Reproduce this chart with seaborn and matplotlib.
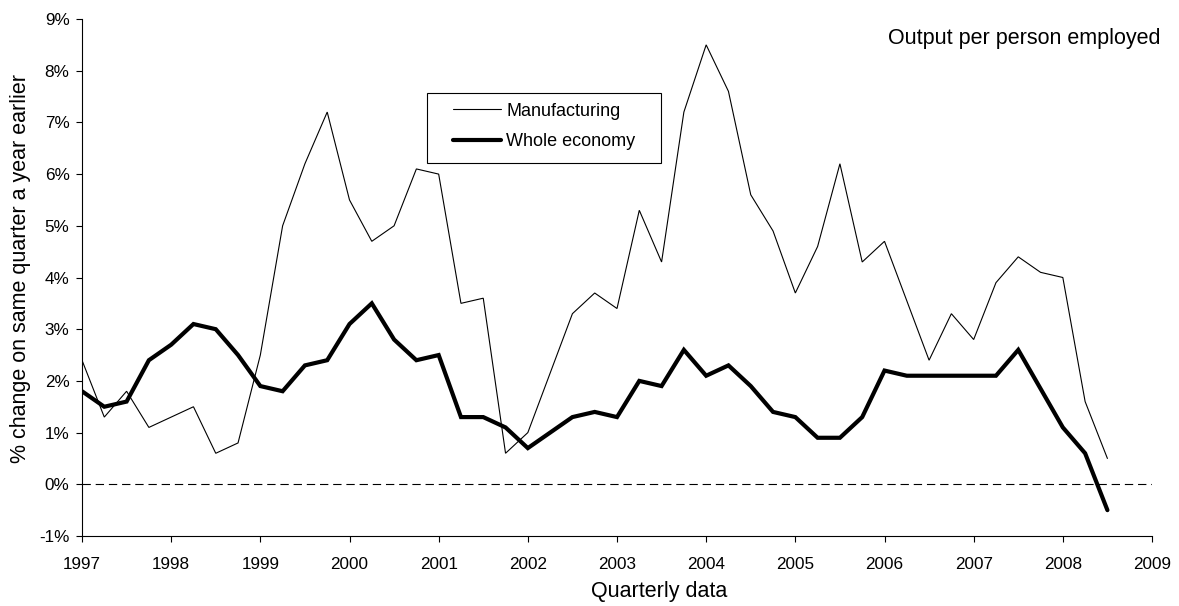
import numpy as np
import pandas as pd
import matplotlib
matplotlib.use("Agg")
import matplotlib.pyplot as plt
from matplotlib.patches import Rectangle
from matplotlib.ticker import FuncFormatter
import seaborn as sns

# Quarterly observations, 1997 Q1 to 2008 Q3
quarters = pd.period_range("1997Q1", "2008Q3", freq="Q")

# % change on same quarter a year earlier
manufacturing = [2.4, 1.3, 1.8, 1.1, 1.3, 1.5, 0.6, 0.8,
                 2.5, 5.0, 6.2, 7.2, 5.5, 4.7, 5.0, 6.1,
                 6.0, 3.5, 3.6, 0.6, 1.0, 2.15, 3.3, 3.7,
                 3.4, 5.3, 4.3, 7.2, 8.5, 7.6, 5.6, 4.9,
                 3.7, 4.6, 6.2, 4.3, 4.7, 3.55, 2.4, 3.3,
                 2.8, 3.9, 4.4, 4.1, 4.0, 1.6, 0.5]
whole_economy = [1.8, 1.5, 1.6, 2.4, 2.7, 3.1, 3.0, 2.5,
                 1.9, 1.8, 2.3, 2.4, 3.1, 3.5, 2.8, 2.4,
                 2.5, 1.3, 1.3, 1.1, 0.7, 1.0, 1.3, 1.4,
                 1.3, 2.0, 1.9, 2.6, 2.1, 2.3, 1.9, 1.4,
                 1.3, 0.9, 0.9, 1.3, 2.2, 2.1, 2.1, 2.1,
                 2.1, 2.1, 2.6, 1.85, 1.1, 0.6, -0.5]

year_ticks = list(range(1997, 2010))
pct_ticks = list(range(-1, 10))

series_names = ["Manufacturing", "Whole economy"]
title_text = "Output per person employed"
x_label = "Quarterly data"
y_label = "% change on same quarter a year earlier"

sns.set_theme(style="white")
plt.rcParams["font.family"] = ["Liberation Sans", "DejaVu Sans"]
plt.rcParams["axes.unicode_minus"] = False
plt.rcParams["lines.scale_dashes"] = False

x = quarters.year + (quarters.quarter - 1) / 4.0

W, H = 1179, 606
fig = plt.figure(figsize=(W / 100, H / 100), dpi=100)
ax_l, ax_r, ax_t, ax_b = 82, 1152, 19, 536
ax = fig.add_axes([ax_l / W, (H - ax_b) / H, (ax_r - ax_l) / W, (ax_b - ax_t) / H])

sns.lineplot(x=x, y=manufacturing, color="black", linewidth=0.8,
             label=series_names[0], ax=ax)
sns.lineplot(x=x, y=whole_economy, color="black", linewidth=3.0,
             label=series_names[1], ax=ax)
for ln in ax.lines:
    ln.set_solid_joinstyle("miter")

ax.axhline(0, color="black", linewidth=0.8, linestyle=(0, (6.0, 3.5)), zorder=1)

ax.set_xlim(year_ticks[0], year_ticks[-1])
ax.set_ylim(pct_ticks[0], pct_ticks[-1])
ax.set_xticks(year_ticks)
ax.set_yticks(pct_ticks)
ax.yaxis.set_major_formatter(FuncFormatter(lambda v, p: f"{v:.0f}%"))

ax.tick_params(axis="both", direction="out", length=4, width=0.8,
               color="black", labelsize=12.3, labelcolor="black")
ax.tick_params(axis="x", pad=11)
ax.tick_params(axis="y", pad=5)
ax.tick_params(bottom=True, left=True)

sns.despine(ax=ax)
for s in ("left", "bottom"):
    ax.spines[s].set_color("black")
    ax.spines[s].set_linewidth(0.8)

ax.set_xlabel(x_label, fontsize=15.5, color="black")
ax.set_ylabel(y_label, fontsize=15.5, color="black")
ax.xaxis.label.set(va="center", ha="center")
ax.xaxis.set_label_coords((659.5 - ax_l) / (ax_r - ax_l), (ax_b - 592) / (ax_b - ax_t))
ax.yaxis.label.set(va="center", ha="center", rotation_mode="anchor")
ax.yaxis.set_label_coords((21 - ax_l) / (ax_r - ax_l), (ax_b - 268.5) / (ax_b - ax_t))

fig.text(1161 / W, (H - 44) / H, title_text, ha="right", va="baseline",
         fontsize=15.5, color="black")

# Legend with a square, thin black frame
leg = ax.legend(loc="center left",
                bbox_to_anchor=((453 - ax_l) / (ax_r - ax_l), (ax_b - 126.5) / (ax_b - ax_t)),
                borderaxespad=0, borderpad=0, frameon=False, fontsize=13,
                handlelength=2.65, handletextpad=0.3, labelspacing=0.75)
for t in leg.get_texts():
    t.set_color("black")
frame = Rectangle(((427 - ax_l) / (ax_r - ax_l), (ax_b - 163) / (ax_b - ax_t)),
                  (661 - 427) / (ax_r - ax_l), (163 - 93) / (ax_b - ax_t),
                  transform=ax.transAxes, fill=False, edgecolor="black",
                  linewidth=0.8, zorder=5)
ax.add_patch(frame)

fig.savefig("out.png", dpi=100)
